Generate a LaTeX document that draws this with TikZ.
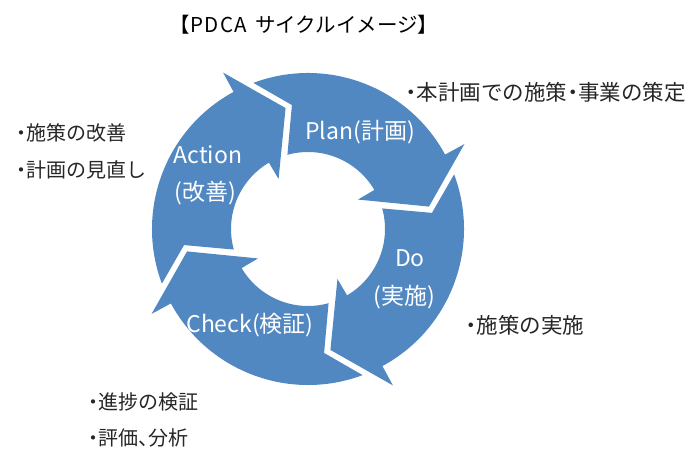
\documentclass[tikz,border=0pt]{standalone}
\usepackage{fontspec}
\usepackage{tikz}
\usetikzlibrary{positioning}
\newfontfamily\jpfont{Noto Sans CJK JP}
\newfontfamily\jpprop{Noto Sans CJK JP}[RawFeature=+palt]
\definecolor{pdcablue}{RGB}{82,136,194}

\begin{document}
\begin{tikzpicture}[x=1pt, y=1pt,
    cyclearrow/.style={fill=pdcablue},
    phaselabel/.style={text=white, inner sep=0, font=\jpfont\fontsize{23}{23}\selectfont},
    notelabel/.style={anchor=west, inner sep=0, text=black!85, font=\jpfont\fontsize{20}{20}\selectfont},
    bignote/.style={notelabel, font=\jpfont\fontsize{21.5}{21.5}\selectfont}]

    \useasboundingbox (0,0) rectangle (691,452);

    % Title
    \node[inner sep=0, font=\jpfont\fontsize{20.5}{20.5}\selectfont] (title) at (304,427)
        {【P\kern1.5pt D\kern1.5pt C\kern1.5pt A\kern8pt サイクルイメージ】};

    % Ring of four arrows, clockwise
    \begin{scope}[shift={(308,223)}]
        % Plan: top to right
        \fill[cyclearrow] (110.5:156) arc[start angle=110.5, end angle=28.5, radius=156]
            -- (28.5:178) -- (10.5:123) -- (30.5:58) -- (30.5:77)
            arc[start angle=30.5, end angle=105.5, radius=77]
            -- (97.4:125) -- cycle;
        % Do: right to bottom
        \fill[cyclearrow] (20.5:156) arc[start angle=20.5, end angle=-61.5, radius=156]
            -- (-61.5:178) -- (-79.5:123) -- (-59.5:58) -- (-59.5:77)
            arc[start angle=-59.5, end angle=15.5, radius=77]
            -- (7.4:125) -- cycle;
        % Check: bottom to left
        \fill[cyclearrow] (-69.5:156) arc[start angle=-69.5, end angle=-151.5, radius=156]
            -- (-151.5:178) -- (-169.5:123) -- (-149.5:58) -- (-149.5:77)
            arc[start angle=-149.5, end angle=-74.5, radius=77]
            -- (-82.6:125) -- cycle;
        % Action: left to top
        \fill[cyclearrow] (200.5:156) arc[start angle=200.5, end angle=118.5, radius=156]
            -- (118.5:178) -- (100.5:123) -- (120.5:58) -- (120.5:77)
            arc[start angle=120.5, end angle=195.5, radius=77]
            -- (187.4:125) -- cycle;
    \end{scope}

    % Phase names on the arrows
    \node[phaselabel] (plan) at (360,320) {Plan(計画)};
    \node[phaselabel] (do) at (410,194) {Do};
    \node[phaselabel] (doja) at (404,155) {(実施)};
    \node[phaselabel] (check) at (250,127) {Check(検証)};
    \node[phaselabel] (action) at (208,297) {Action};
    \node[phaselabel] (actionja) at (205,259) {(改善)};

    % Notes beside each phase (narrow punctuation)
    \node[bignote] (plannote) at (406,360) {{\jpprop ・}本計画での施策{\jpprop ・}事業の策定};
    \node[bignote] (donote) at (466,127) {{\jpprop ・}施策の実施};
    \node[notelabel] (checknote) at (88,50) {{\jpprop ・}進捗の検証};
    \node[notelabel] (checknotetwo) at (88,14) {{\jpprop ・}評価{\jpprop 、}分析};
    \node[notelabel] (actionnote) at (16,319) {{\jpprop ・}施策の改善};
    \node[notelabel] (actionnotetwo) at (16,282) {{\jpprop ・}計画の見直し};

\end{tikzpicture}
\end{document}
